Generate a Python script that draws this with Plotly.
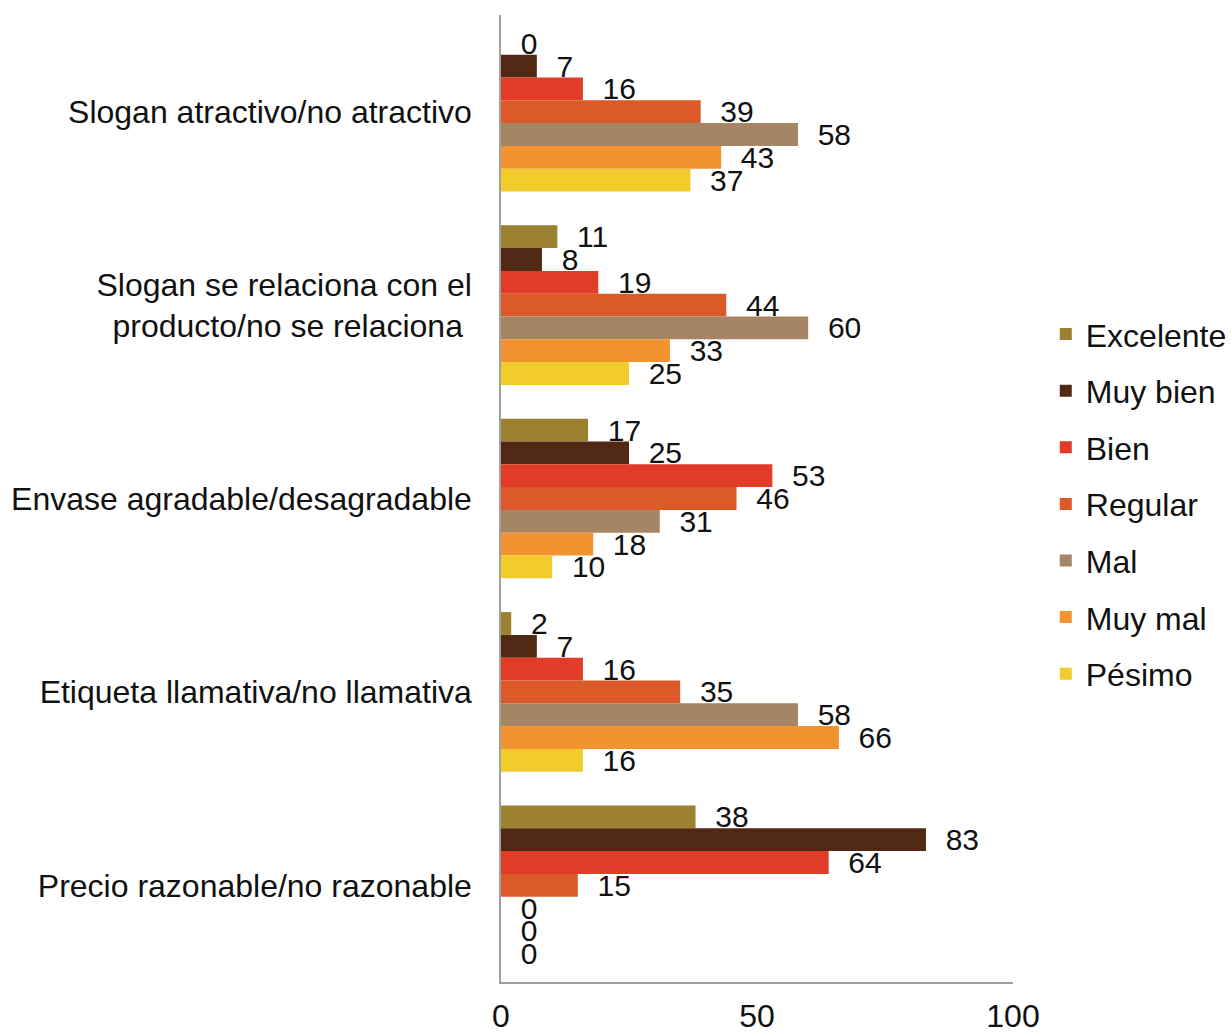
import plotly.graph_objects as go

categories = [
    "Slogan atractivo/no atractivo",
    "Slogan se relaciona con el<br>producto/no se relaciona\u00a0",
    "Envase agradable/desagradable",
    "Etiqueta llamativa/no llamativa",
    "Precio razonable/no razonable",
]
series_names = ["Excelente", "Muy bien", "Bien", "Regular", "Mal", "Muy mal", "Pésimo"]
excelente = [0, 11, 17, 2, 38]
muy_bien = [7, 8, 25, 7, 83]
bien = [16, 19, 53, 16, 64]
regular = [39, 44, 46, 35, 15]
mal = [58, 60, 31, 58, 0]
muy_mal = [43, 33, 18, 66, 0]
pesimo = [37, 25, 10, 16, 0]
series_values = [excelente, muy_bien, bien, regular, mal, muy_mal, pesimo]
colors = ["#9C8130", "#512814", "#E03C28", "#DC5A2A", "#A58564", "#F39230", "#F2CB2C"]
x_ticks = [0, 50, 100]

font_family = "Liberation Sans, Arial, sans-serif"

fig = go.Figure()
for name, vals, col in zip(series_names, series_values, colors):
    fig.add_trace(go.Bar(
        y=categories, x=vals, name=name, orientation="h",
        legendgroup=name,
        marker=dict(color=col, line=dict(width=0)),
        text=[str(v) for v in vals],
        texttemplate="\u00a0\u00a0%{text}",
        textposition="outside",
        constraintext="none",
        cliponaxis=False,
        textfont=dict(size=30, color="#111111", family=font_family),
    ))

fig.update_layout(
    barmode="group",
    bargap=0.175,
    bargroupgap=0,
    width=1231, height=1034,
    margin=dict(l=501, r=218, t=15, b=52, autoexpand=False),
    plot_bgcolor="white", paper_bgcolor="white",
    font=dict(family=font_family, size=30, color="#111111"),
    legend=dict(
        x=1.064, y=0.494, xanchor="left", yanchor="middle",
        traceorder="grouped",
        font=dict(size=32, color="#111111"),
        itemwidth=30,
        tracegroupgap=12,
        bgcolor="rgba(0,0,0,0)",
    ),
    showlegend=True,
)
fig.update_xaxes(
    range=[0, 100], tickvals=x_ticks, ticktext=[str(t) for t in x_ticks],
    showgrid=False, zeroline=False,
    showline=True, linecolor="#A0A0A0", linewidth=1.5,
    ticks="outside", ticklen=5, tickcolor="rgba(0,0,0,0)",
    tickfont=dict(size=32, color="#111111"),
)
fig.update_yaxes(
    autorange="reversed",
    showgrid=False, zeroline=False,
    showline=True, linecolor="#A0A0A0", linewidth=1.5,
    ticks="outside", ticklen=21, tickcolor="rgba(0,0,0,0)",
    tickfont=dict(size=32, color="#111111"),
)

fig.write_html(
    "out.html",
    config={"displayModeBar": False},
    post_script="document.body.style.margin='0';document.body.style.overflow='hidden';",
)
